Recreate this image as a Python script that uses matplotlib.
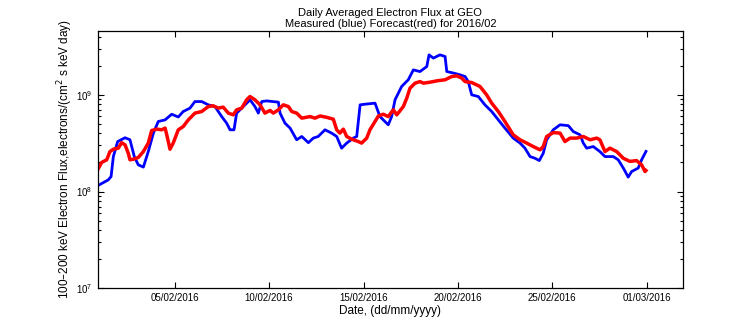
import numpy as np
import pandas as pd
import matplotlib
matplotlib.use("Agg")
import matplotlib.pyplot as plt
import matplotlib.dates as mdates

plt.rcParams['font.family'] = ['Liberation Sans', 'DejaVu Sans']

# days since 01/02/2016 00:00, flux in units of 1e8
day_blue = [-0.08, 0.48, 0.63, 0.75, 0.98, 1.37, 1.63, 1.86, 2.07, 2.34, 2.60, 2.87,
            3.13, 3.49, 3.84, 4.19, 4.45, 4.81, 5.07, 5.43, 5.78, 6.13, 6.49, 6.75,
            6.93, 7.14, 7.28, 7.55, 7.99, 8.25, 8.43, 8.61, 8.87, 9.49, 9.58, 9.84,
            10.11, 10.46, 10.73, 11.08, 11.34, 11.60, 11.96, 12.31, 12.58, 12.84,
            13.11, 13.46, 13.64, 13.82, 14.08, 14.61, 14.87, 15.31, 15.49, 15.67,
            16.02, 16.37, 16.64, 16.99, 17.35, 17.47, 17.70, 18.05, 18.32, 18.41,
            18.76, 19.11, 19.38, 19.55, 19.73, 20.08, 20.43, 20.79, 21.14, 21.49,
            21.93, 22.29, 22.55, 22.82, 23.08, 23.31, 23.52, 23.70, 24.05, 24.41,
            24.85, 25.11, 25.47, 25.64, 25.82, 26.17, 26.52, 26.79, 27.23, 27.49,
            27.76, 28.02, 28.20, 28.55, 28.73, 28.96]
flux_blue = [1.15, 1.32, 1.43, 2.30, 3.29, 3.60, 3.43, 2.30, 1.89, 1.79, 2.59, 4.02,
             5.30, 5.51, 6.30, 5.90, 6.72, 7.29, 8.52, 8.52, 7.88, 7.57, 5.96, 5.10,
             4.35, 4.35, 6.47, 7.29, 8.88, 7.57, 6.47, 8.52, 8.65, 8.40, 6.47, 5.10,
             4.53, 3.43, 3.71, 3.20, 3.57, 3.71, 4.35, 4.02, 3.71, 2.81,
             3.17, 3.57, 3.71, 7.88, 8.00, 8.20, 5.96, 4.90, 5.96, 8.88,
             12.2, 14.3, 18.1, 17.4, 19.6, 25.9, 23.96, 25.9, 24.9, 17.4,
             16.8, 16.1, 15.46, 13.7, 10.0, 9.6, 7.88, 6.72, 5.51, 4.53,
             3.57, 3.17, 2.81, 2.30, 2.21, 2.09, 2.49, 3.43, 4.35, 4.90,
             4.80, 4.17, 3.86, 3.17, 2.81, 2.92, 2.59, 2.30, 2.30, 2.13,
             1.75, 1.41, 1.61, 1.75, 2.13, 2.60]

day_red = [-0.08, 0.13, 0.40, 0.57, 0.75, 1.01, 1.19, 1.37, 1.54, 1.63, 1.81, 2.07,
           2.34, 2.60, 2.78, 3.05, 3.31, 3.49, 3.58, 3.75, 3.92, 4.19, 4.45, 4.72,
           5.07, 5.43, 5.78, 6.04, 6.31, 6.57, 6.84, 7.10, 7.28, 7.55, 7.81, 7.99,
           8.25, 8.52, 8.78, 9.05, 9.22, 9.49, 9.75, 10.02, 10.20, 10.46, 10.73,
           11.17, 11.43, 11.70, 12.05, 12.40, 12.58, 12.75, 12.93, 13.11, 13.37,
           13.72, 13.90, 14.17, 14.34, 14.61, 14.79, 15.05, 15.31, 15.58, 15.76,
           16.11, 16.29, 16.46, 16.73, 16.99, 17.17, 17.52, 17.88, 18.32, 18.67,
           18.94, 19.20, 19.38, 19.73, 20.17, 20.52, 20.79, 21.14, 21.49, 21.93,
           22.29, 22.64, 22.99, 23.35, 23.52, 23.70, 24.05, 24.41, 24.67, 24.94,
           25.29, 25.64, 26.00, 26.35, 26.52, 26.79, 27.05, 27.41, 27.76, 28.11,
           28.46, 28.73, 28.91, 28.96]
flux_red = [1.68, 2.00, 2.13, 2.59, 2.74, 2.81, 3.20, 3.04, 2.49, 2.13, 2.16, 2.25,
            2.59, 3.17, 4.28, 4.42, 4.35, 4.53, 3.86, 2.74, 3.17, 4.35, 4.70, 5.51,
            6.47, 6.72, 7.57, 7.70, 7.29, 7.46, 6.47, 6.21, 7.00, 7.29, 8.88, 9.60,
            8.88, 7.88, 6.47, 6.90, 6.47, 7.00, 7.88, 7.57, 6.72, 6.47, 5.74,
            5.96, 5.74, 6.05, 5.85, 5.60, 4.35, 4.02, 4.42, 3.71, 3.48,
            3.29, 3.17, 3.57, 4.35, 5.30, 6.05, 6.30, 5.96, 7.00, 6.21,
            7.57, 9.24, 11.7, 13.2, 13.7, 13.2, 13.5, 13.95, 14.3, 15.46,
            15.7, 14.9, 13.7, 13.4, 12.2, 10.0, 8.2, 6.72, 5.30, 3.86,
            3.43, 3.17, 2.92, 2.70, 2.92, 3.71, 4.07, 4.02, 3.29, 3.57,
            3.57, 3.71, 3.43, 3.57, 3.43, 2.59, 2.81, 2.59, 2.21, 2.05,
            2.09, 1.89, 1.61, 1.65]

tick_dates = ['2016-02-05', '2016-02-10', '2016-02-15', '2016-02-20', '2016-02-25', '2016-03-01']

start = pd.Timestamp('2016-02-01')
t_blue = start + pd.to_timedelta(day_blue, unit='D')
t_red = start + pd.to_timedelta(day_red, unit='D')
y_blue = np.array(flux_blue) * 1e8
y_red = np.array(flux_red) * 1e8

fig = plt.figure(figsize=(7.56, 3.24), dpi=100)
ax = fig.add_axes([0.1292, 0.1102, 0.9034 - 0.1292, 0.9052 - 0.1102])

ax.plot(t_blue, y_blue, color='#0000ff', lw=2)
ax.plot(t_red, y_red, color='#ff0000', lw=2.5)

ax.set_yscale('log')
ax.set_ylim(1e7, 4.6e9)
ax.set_xlim(start - pd.Timedelta(days=0.08), start + pd.Timedelta(days=30.92))
ax.set_xticks(pd.to_datetime(tick_dates))
ax.xaxis.set_major_formatter(mdates.DateFormatter('%d/%m/%Y'))

ax.tick_params(which='both', direction='in', top=True, right=True, labelsize=7, width=0.8)
ax.tick_params(which='major', length=4)
ax.tick_params(which='minor', length=2.5)
ax.tick_params(axis='x', which='minor', top=False, bottom=False)
for s in ax.spines.values():
    s.set_linewidth(0.9)

ax.set_title('Daily Averaged Electron Flux at GEO\nMeasured (blue) Forecast(red) for 2016/02',
             fontsize=8, pad=3, linespacing=1.1)
ax.set_xlabel('Date, (dd/mm/yyyy)', fontsize=8.5, labelpad=1)
ax.set_ylabel('100\u2013200 keV Electron Flux,electrons/(cm$^2$ s keV day)', fontsize=8.5, labelpad=1)

fig.savefig('out.png', dpi=100)
